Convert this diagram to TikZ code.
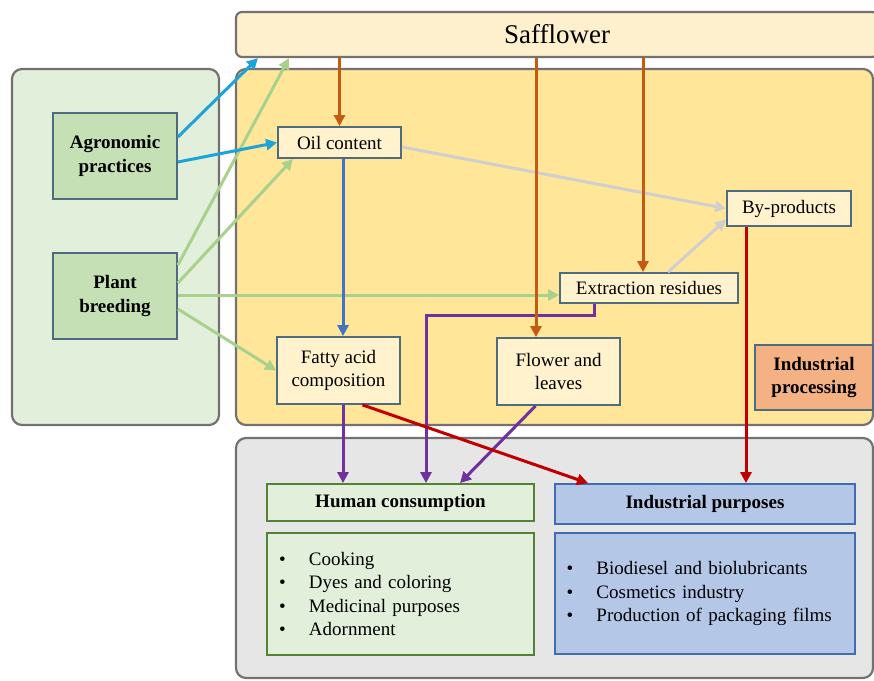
\documentclass[tikz,border=0pt]{standalone}
\usepackage{fontspec}
\setmainfont{Liberation Serif}
\usepackage{xcolor}
\usepackage{tikz}
\usetikzlibrary{arrows.meta,positioning,calc}
\definecolor{panelgreen}{HTML}{E2EFDA}
\definecolor{panelyellow}{HTML}{FFE699}
\definecolor{panelgray}{HTML}{E7E6E6}
\definecolor{panelline}{HTML}{767171}
\definecolor{safcream}{HTML}{FEF0CD}
\definecolor{cream}{HTML}{FFF2CC}
\definecolor{boxline}{HTML}{4E6B80}
\definecolor{midgreen}{HTML}{C5E0B4}
\definecolor{peach}{HTML}{F4B183}
\definecolor{humanline}{HTML}{548235}
\definecolor{indfill}{HTML}{B4C7E7}
\definecolor{indline}{HTML}{3F6DAF}
\definecolor{arrcyan}{HTML}{1BA3DC}
\definecolor{arrgreen}{HTML}{A9D18E}
\definecolor{arrgray}{HTML}{D0CECE}
\definecolor{arrorange}{HTML}{C55A11}
\definecolor{arrblue}{HTML}{4472C4}
\definecolor{arrred}{HTML}{C00000}
\definecolor{arrpurple}{HTML}{7030A0}
\newcommand\nodefont{\fontsize{19}{23.5}\selectfont}
\newcommand\itm[1]{\makebox[36pt][l]{\hspace{6pt}\textbullet}#1}

\begin{document}
\begin{tikzpicture}[x=1pt,y=-1pt,
  panel/.style={draw=panelline, line width=2.2pt, rounded corners=10pt},
  box/.style={draw=boxline, line width=1.8pt, fill=cream, inner sep=0pt, align=center, font=\nodefont},
  arr/.style={line width=3pt, -{Triangle[length=11pt,width=11pt]}}
]
\useasboundingbox (0,0) rectangle (874,680);

% panels
\node[panel, fill=panelgreen, minimum width=207pt, minimum height=356pt] (left) at (115.5,247) {};
\node[panel, fill=panelyellow, minimum width=637pt, minimum height=356pt] (proc) at (554.5,247) {};
\node[panel, fill=panelgray, minimum width=637pt, minimum height=240pt] (uses) at (554.5,558) {};
\node[draw=panelline, line width=2.2pt, rounded corners=6pt, fill=safcream, minimum width=642pt, minimum height=45pt, font=\fontsize{27}{30}\selectfont] (saff) at (557,34.5) {Safflower};

% factors
\node[box, fill=midgreen, minimum width=124pt, minimum height=86pt, font=\nodefont\bfseries] (agro) at (115,156) {Agronomic\\practices};
\node[box, fill=midgreen, minimum width=124pt, minimum height=86pt, font=\nodefont\bfseries] (breed) at (115,296) {Plant\\breeding};

% products
\node[box, minimum width=123pt, minimum height=31pt] (oil) at (339.5,142.5) {Oil content};
\node[box, minimum width=123pt, minimum height=67pt] (fatty) at (338.5,370.5) {Fatty acid\\composition};
\node[box, minimum width=124pt, minimum height=35pt] (byprod) at (789,208.5) {By-products};
\node[box, minimum width=178pt, minimum height=30pt] (extract) at (649,288) {Extraction residues};
\node[box, minimum width=123pt, minimum height=67pt] (flower) at (558.5,371.5) {Flower and\\leaves};
\node[box, fill=peach, minimum width=118pt, minimum height=65pt, font=\nodefont\bfseries] (indproc) at (814,377.5) {Industrial\\processing};

% uses
\node[box, draw=humanline, fill=panelgreen, minimum width=267pt, minimum height=37pt, font=\nodefont\bfseries] (human) at (400.5,502.5) {Human consumption};
\node[box, draw=humanline, fill=panelgreen, minimum width=267pt, minimum height=122pt, text width=255pt, align=left] (humanlist) at (400.5,594) {\itm{Cooking}\\\itm{Dyes and coloring}\\\itm{Medicinal purposes}\\\itm{Adornment}};
\node[box, draw=indline, fill=indfill, minimum width=300pt, minimum height=40pt, font=\nodefont\bfseries] (indpur) at (705,504) {Industrial purposes};
\node[box, draw=indline, fill=indfill, minimum width=300pt, minimum height=121pt, text width=289pt, align=left] (indlist) at (705,593.5) {\itm{Biodiesel and biolubricants}\\\itm{Cosmetics industry}\\\itm{Production of packaging films}};

% connectors
\draw[arr, arrgray] ([yshift=-4.5pt]oil.east) -- (byprod.west);
\draw[arr, arrgray] (extract.north -| 668,0) -- ([yshift=-11pt]byprod.west);
\draw[arr, arrgreen] ([yshift=31pt]breed.east) -- (saff.south -| 289,0);
\draw[arr, arrgreen] ([yshift=13pt]breed.east) -- (oil.south -| 293,0);
\draw[arr, arrgreen] ([yshift=1pt]breed.east) -- (extract.west |- 0,295);
\draw[arr, arrgreen] ([yshift=-13pt]breed.east) -- (fatty.west);
\draw[arr, arrcyan] ([yshift=19pt]agro.east) -- (saff.south -| 258,0);
\draw[arr, arrcyan] ([yshift=-6pt]agro.east) -- (oil.west);
\draw[arr, arrpurple] (extract.south -| 594,0) -- ++(0,12) -| (human.north -| 426,0);
\draw[arr, arrpurple] (fatty.south -| 343,0) -- (human.north -| 343,0);
\draw[arr, arrpurple] ([xshift=-23pt]flower.south) -- (human.north -| 460,0);
\draw[arr, arrred] ([xshift=24pt]fatty.south) -- (indpur.north -| 588,0);
\draw[arr, arrred] (byprod.south -| 746,0) -- (indpur.north -| 746,0);
\draw[arr, arrblue] (oil.south -| 343,0) -- (fatty.north -| 343,0);
\draw[arr, arrorange] (saff.south -| oil.north) -- (oil.north);
\draw[arr, arrorange] (saff.south -| 536,0) -- (flower.north -| 536,0);
\draw[arr, arrorange] (saff.south -| 643,0) -- (extract.north -| 643,0);
\end{tikzpicture}
\end{document}
